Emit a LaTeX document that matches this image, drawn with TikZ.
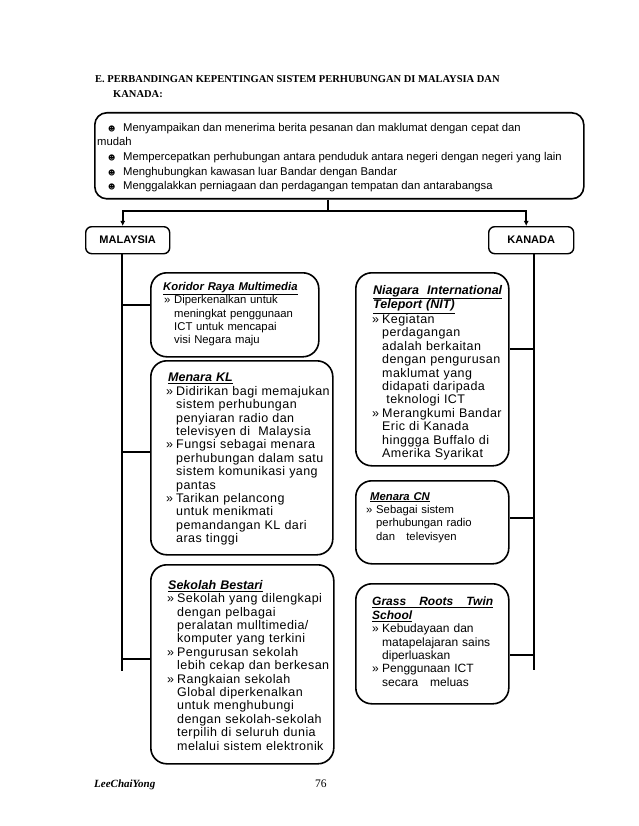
\documentclass[tikz,border=0pt]{standalone}
\usepackage{fontspec}
\setmainfont{Liberation Sans}
\newfontfamily\tnr{Liberation Serif}
\newfontfamily\dvs{DejaVu Sans}
\newfontfamily\lsf[LetterSpace=3.5]{Liberation Sans}
\usetikzlibrary{arrows.meta}
\newcommand\bl{\makebox[10pt][l]{»}}
\newcommand\ind{\hspace*{10pt}}
\newcommand\ttl[1]{\underline{\rmfamily\bfseries\itshape #1}}
\newcommand\smi{\makebox[15pt][l]{\dvs\fontsize{7}{7}\selectfont ☻}}
\tikzset{
  box/.style={draw, line width=1.6pt, rounded corners=16pt, inner sep=0pt, anchor=north west},
  lbl/.style={draw, line width=1.4pt, rounded corners=6pt, inner sep=0pt, anchor=north west,
     font=\bfseries\fontsize{11}{13}\selectfont},
  tl/.style={anchor=base west, inner sep=0pt, font=\fontsize{11.3}{14.5}\selectfont},
  txt/.style={anchor=north west, inner sep=0pt, align=left, text width=170pt, font=\fontsize{#1}{13.4}\selectfont},
  ltxt/.style={anchor=north west, inner sep=0pt, align=left, text width=170pt, font=\lsf\fontsize{#1}{13.4}\selectfont},
  conn/.style={line width=1.8pt},
  arr/.style={line width=1.8pt, -{Latex[length=5pt,width=5pt]}}
}
\begin{document}
\begin{tikzpicture}[x=1pt,y=-1pt]
\useasboundingbox (0,0) rectangle (638,826);
% heading
\node[anchor=base west, inner sep=0pt, font=\tnr\bfseries\fontsize{10.5}{13}\selectfont] (h1) at (95,82.5)
  {E. PERBANDINGAN KEPENTINGAN SISTEM PERHUBUNGAN DI MALAYSIA DAN};
\node[anchor=base west, inner sep=0pt, font=\tnr\bfseries\fontsize{10.5}{13}\selectfont] (h2) at (113,98)
  {KANADA:};
% top box
\node[box, rounded corners=12pt, minimum width=489pt, minimum height=86pt] (top) at (94,112) {};
\node[tl] (t1) at (108,131.5) {\smi Menyampaikan dan menerima berita pesanan dan maklumat dengan cepat dan};
\node[tl] (t2) at (97,146) {mudah};
\node[tl] (t3) at (108,161) {\smi Mempercepatkan perhubungan antara penduduk antara negeri dengan negeri yang lain};
\node[tl] (t4) at (108,175.5) {\smi Menghubungkan kawasan luar Bandar dengan Bandar};
\node[tl] (t5) at (108,190) {\smi Menggalakkan perniagaan dan perdagangan tempatan dan antarabangsa};
% country labels
\node[lbl, minimum width=84pt, minimum height=27pt] (mal) at (85,226) {MALAYSIA};
\node[lbl, minimum width=85pt, minimum height=27pt] (kan) at (488,226) {KANADA};
% content boxes
\node[box, minimum width=168pt, minimum height=84pt] (kor) at (150,272) {};
\node[box, minimum width=182pt, minimum height=194pt] (mkl) at (150,360) {};
\node[box, minimum width=183pt, minimum height=199pt] (sek) at (150,564) {};
\node[box, minimum width=153pt, minimum height=193pt] (nit) at (355,272) {};
\node[box, minimum width=153pt, minimum height=83pt] (cn) at (355,480) {};
\node[box, minimum width=153pt, minimum height=120pt] (gr) at (355,583) {};
% texts
\node[txt=11.3] (korT) at (164,282) {%
\hspace*{-1pt}\ttl{Koridor Raya Multimedia}\\
\bl Diperkenalkan untuk\\
\ind meningkat penggunaan\\
\ind ICT untuk mencapai\\
\ind visi Negara maju};
\node[ltxt=12.5] (mklT) at (166,373) {%
\hspace*{2pt}\ttl{Menara KL}\\
\bl Didirikan bagi memajukan\\
\ind sistem perhubungan\\
\ind penyiaran radio dan\\
\ind televisyen di\ \ Malaysia\\
\bl Fungsi sebagai menara\\
\ind perhubungan dalam satu\\
\ind sistem komunikasi yang\\
\ind pantas\\
\bl Tarikan pelancong\\
\ind untuk menikmati\\
\ind pemandangan KL dari\\
\ind aras tinggi};
\node[ltxt=12.5] (sekT) at (167,580) {%
\hspace*{1pt}\ttl{Sekolah Bestari}\\
\bl Sekolah yang dilengkapi\\
\ind dengan pelbagai\\
\ind peralatan mulltimedia/\\
\ind komputer yang terkini\\
\bl Pengurusan sekolah\\
\ind lebih cekap dan berkesan\\
\bl Rangkaian sekolah\\
\ind Global diperkenalkan\\
\ind untuk menghubungi\\
\ind dengan sekolah-sekolah\\
\ind terpilih di seluruh dunia\\
\ind melalui sistem elektronik};
\node[ltxt=12.5] (nitT) at (372,285) {%
\hspace*{1pt}\underline{\makebox[129pt][l]{\rmfamily\bfseries\itshape Niagara\hfill International}}\\
\hspace*{1pt}\ttl{Teleport (NIT)}\\
\bl Kegiatan\\
\ind perdagangan\\
\ind adalah berkaitan\\
\ind dengan pengurusan\\
\ind maklumat yang\\
\ind didapati daripada\\
\ind\ teknologi ICT\\
\bl Merangkumi Bandar\\
\ind Eric di Kanada\\
\ind hinggga Buffalo di\\
\ind Amerika Syarikat};
\node[txt=11.3] (cnT) at (366,492) {%
\hspace*{4pt}\ttl{Menara CN}\\
\bl Sebagai sistem\\
\ind perhubungan radio\\
\ind dan\ \ \ televisyen};
\node[txt=12] (grT) at (372,597) {%
\underline{\makebox[121pt][l]{\rmfamily\bfseries\itshape Grass\hfill Roots\hfill Twin}}\\
\ttl{School}\\
\bl Kebudayaan dan\\
\ind matapelajaran sains\\
\ind diperluaskan\\
\bl Penggunaan ICT\\
\ind secara\ \ \ meluas};
% connectors
\coordinate (j) at (328,211);
\draw[conn] (top.south -| j) -- (j);
\draw[arr] (j) -| ([xshift=-5pt]mal.north);
\draw[arr] (j) -| ([xshift=-5pt]kan.north);
\coordinate (mb) at (122,671);
\draw[conn] (mal.south -| mb) -- (mb);
\coordinate (m1) at (122,305);
\coordinate (m2) at (122,452);
\coordinate (m3) at (122,659);
\draw[conn] (m1) -- (m1 -| kor.west);
\draw[conn] (m2) -- (m2 -| mkl.west);
\draw[conn] (m3) -- (m3 -| sek.west);
\coordinate (kb) at (534,670);
\draw[conn] (kan.south -| kb) -- (kb);
\coordinate (k1) at (534,349);
\coordinate (k2) at (534,518);
\coordinate (k3) at (534,655);
\draw[conn] (k1) -- (k1 -| nit.east);
\draw[conn] (k2) -- (k2 -| cn.east);
\draw[conn] (k3) -- (k3 -| gr.east);
% footer
\node[anchor=base west, inner sep=0pt, font=\tnr\bfseries\itshape\fontsize{11}{13}\selectfont] (ft) at (94,787) {LeeChaiYong};
\node[anchor=base west, inner sep=0pt, font=\tnr\fontsize{11.5}{13}\selectfont] (pg) at (315,787) {76};
\end{tikzpicture}
\end{document}
